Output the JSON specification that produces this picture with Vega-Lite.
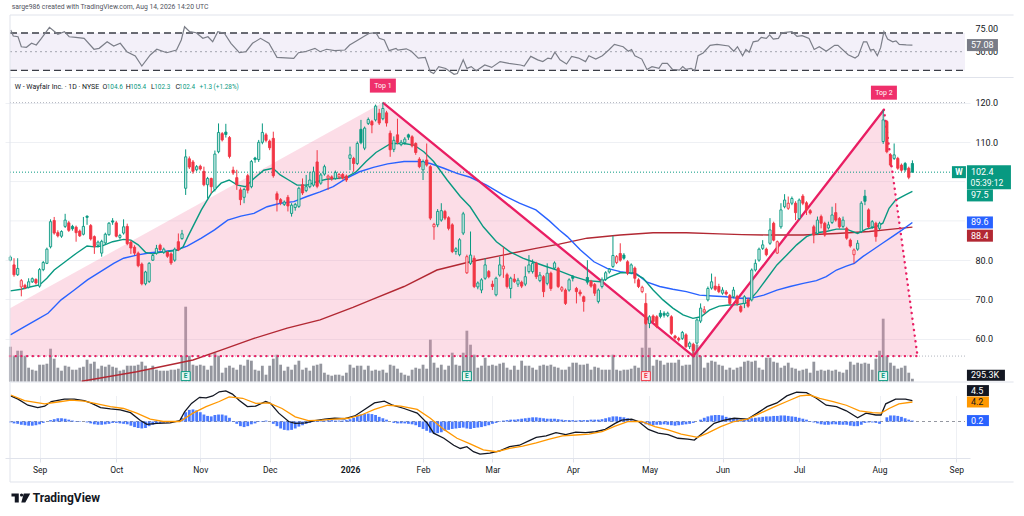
{
  "$schema": "https://vega.github.io/schema/vega-lite/v6.json",
  "width": 965,
  "height": 443,
  "autosize": {"type": "none"},
  "padding": {"left": 5, "top": 15, "right": 54, "bottom": 58},
  "background": "#ffffff",
  "config": {"view": {"stroke": null}, "font": "Roboto"},
  "datasets": {
    "bars": [
      {"i":-8,"o":80.0,"h":81.2,"l":79.7,"c":80.8,"v":3500,"mh":-0.2},
      {"i":-7,"o":78.8,"h":80.5,"l":75.8,"c":76.3,"v":2600,"mh":-0.4},
      {"i":-6,"o":76.3,"h":80.5,"l":76.0,"c":77.9,"v":3100,"mh":-0.5},
      {"i":-5,"o":73.2,"h":75.2,"l":70.8,"c":74.8,"v":3100,"mh":-0.7},
      {"i":-4,"o":73.6,"h":74.0,"l":72.6,"c":73.0,"v":2600,"mh":-0.8},
      {"i":-3,"o":73.1,"h":75.4,"l":72.8,"c":74.5,"v":1400,"mh":-0.9},
      {"i":-2,"o":74.5,"h":75.6,"l":74.2,"c":75.3,"v":1200,"mh":-0.9},
      {"i":-1,"o":75.1,"h":75.4,"l":73.8,"c":74.2,"v":1100,"mh":-0.8},
      {"i":0,"o":73.4,"h":78.0,"l":73.0,"c":77.6,"v":1700,"mh":-0.6},
      {"i":1,"o":77.6,"h":79.8,"l":77.2,"c":79.4,"v":1700,"mh":-0.3},
      {"i":2,"o":79.2,"h":83.2,"l":79.0,"c":82.8,"v":1800,"mh":0.0},
      {"i":3,"o":83.4,"h":90.4,"l":83.0,"c":89.8,"v":3300,"mh":0.3},
      {"i":4,"o":90.1,"h":91.0,"l":86.5,"c":86.9,"v":2300,"mh":0.5},
      {"i":5,"o":87.0,"h":87.6,"l":85.8,"c":86.2,"v":1400,"mh":0.7},
      {"i":6,"o":86.1,"h":87.6,"l":85.7,"c":87.3,"v":1100,"mh":0.7},
      {"i":7,"o":88.6,"h":91.8,"l":88.2,"c":90.2,"v":1600,"mh":0.6},
      {"i":8,"o":89.5,"h":90.0,"l":87.2,"c":87.6,"v":1500,"mh":0.4},
      {"i":9,"o":88.6,"h":89.0,"l":87.5,"c":88.0,"v":1200,"mh":0.2},
      {"i":10,"o":88.4,"h":88.8,"l":84.7,"c":87.0,"v":1200,"mh":0.1},
      {"i":11,"o":87.4,"h":87.8,"l":85.9,"c":86.2,"v":1400,"mh":0.1},
      {"i":12,"o":86.6,"h":91.0,"l":86.3,"c":88.6,"v":1500,"mh":0.0},
      {"i":13,"o":91.2,"h":91.4,"l":89.0,"c":90.9,"v":2200,"mh":-0.2},
      {"i":14,"o":88.8,"h":89.2,"l":85.0,"c":85.4,"v":1800,"mh":-0.4},
      {"i":15,"o":86.0,"h":86.3,"l":81.6,"c":83.5,"v":2000,"mh":-0.6},
      {"i":16,"o":83.8,"h":85.0,"l":83.2,"c":84.6,"v":1300,"mh":-0.7},
      {"i":17,"o":81.8,"h":85.2,"l":80.9,"c":84.8,"v":1600,"mh":-0.7},
      {"i":18,"o":84.4,"h":87.0,"l":84.0,"c":86.6,"v":1500,"mh":-0.6},
      {"i":19,"o":86.5,"h":89.7,"l":86.2,"c":89.4,"v":1700,"mh":-0.5},
      {"i":20,"o":90.0,"h":90.7,"l":89.0,"c":89.7,"v":1500,"mh":-0.3},
      {"i":21,"o":89.5,"h":90.0,"l":85.8,"c":86.1,"v":1400,"mh":-0.3},
      {"i":22,"o":85.8,"h":86.7,"l":85.3,"c":86.3,"v":1100,"mh":-0.4},
      {"i":23,"o":86.9,"h":90.4,"l":86.5,"c":88.5,"v":1200,"mh":-0.5},
      {"i":24,"o":88.6,"h":89.3,"l":83.8,"c":84.2,"v":1600,"mh":-0.6},
      {"i":25,"o":84.6,"h":85.0,"l":81.6,"c":83.1,"v":1600,"mh":-0.9},
      {"i":26,"o":83.3,"h":83.8,"l":81.3,"c":81.8,"v":1600,"mh":-1.2},
      {"i":27,"o":81.8,"h":82.2,"l":78.2,"c":78.6,"v":1700,"mh":-1.4},
      {"i":28,"o":79.0,"h":79.4,"l":73.6,"c":74.0,"v":2000,"mh":-1.5},
      {"i":29,"o":74.0,"h":77.3,"l":73.6,"c":77.0,"v":1600,"mh":-1.4},
      {"i":30,"o":74.6,"h":79.5,"l":74.2,"c":79.2,"v":1200,"mh":-1.0},
      {"i":31,"o":80.0,"h":81.6,"l":79.8,"c":81.2,"v":1600,"mh":-0.7},
      {"i":32,"o":81.8,"h":83.9,"l":81.4,"c":83.0,"v":1200,"mh":-0.5},
      {"i":33,"o":83.8,"h":84.2,"l":82.3,"c":82.7,"v":1100,"mh":-0.4},
      {"i":34,"o":82.0,"h":83.2,"l":81.6,"c":82.8,"v":1100,"mh":-0.3},
      {"i":35,"o":82.0,"h":82.3,"l":80.6,"c":81.0,"v":1100,"mh":-0.3},
      {"i":36,"o":81.6,"h":82.0,"l":78.8,"c":79.3,"v":1200,"mh":-0.2},
      {"i":37,"o":80.0,"h":83.2,"l":79.6,"c":82.8,"v":1200,"mh":-0.1},
      {"i":38,"o":84.7,"h":86.8,"l":82.3,"c":82.6,"v":1300,"mh":0.1},
      {"i":39,"o":85.5,"h":87.7,"l":85.2,"c":86.7,"v":2600,"mh":0.8},
      {"i":40,"o":98.3,"h":108.2,"l":96.6,"c":106.3,"v":7500,"mh":2.0},
      {"i":41,"o":105.8,"h":106.4,"l":103.2,"c":103.7,"v":2600,"mh":2.5},
      {"i":42,"o":105.0,"h":105.5,"l":102.0,"c":102.6,"v":1700,"mh":2.6},
      {"i":43,"o":103.0,"h":104.2,"l":102.6,"c":103.8,"v":1600,"mh":2.4},
      {"i":44,"o":103.9,"h":104.3,"l":102.8,"c":103.2,"v":1700,"mh":2.0},
      {"i":45,"o":102.6,"h":103.8,"l":98.8,"c":99.2,"v":1600,"mh":1.5},
      {"i":46,"o":99.2,"h":101.2,"l":95.7,"c":100.8,"v":1200,"mh":1.2},
      {"i":47,"o":100.8,"h":101.0,"l":97.0,"c":98.7,"v":1600,"mh":1.1},
      {"i":48,"o":98.0,"h":107.9,"l":97.5,"c":107.0,"v":2900,"mh":1.4},
      {"i":49,"o":107.6,"h":114.8,"l":107.2,"c":112.5,"v":2600,"mh":1.5},
      {"i":50,"o":112.2,"h":112.6,"l":110.2,"c":110.6,"v":900,"mh":1.5},
      {"i":51,"o":112.6,"h":114.7,"l":111.2,"c":112.0,"v":1400,"mh":1.3},
      {"i":52,"o":111.2,"h":111.6,"l":105.9,"c":106.4,"v":1600,"mh":0.8},
      {"i":53,"o":102.9,"h":103.8,"l":101.7,"c":102.2,"v":1400,"mh":0.1},
      {"i":54,"o":101.0,"h":103.0,"l":97.9,"c":99.2,"v":1200,"mh":-0.5},
      {"i":55,"o":97.9,"h":98.5,"l":94.0,"c":95.4,"v":1700,"mh":-1.0},
      {"i":56,"o":96.0,"h":98.4,"l":94.5,"c":98.0,"v":1600,"mh":-1.2},
      {"i":57,"o":101.5,"h":102.0,"l":97.0,"c":97.8,"v":2200,"mh":-1.0},
      {"i":58,"o":98.7,"h":105.5,"l":98.3,"c":105.1,"v":2100,"mh":-0.6},
      {"i":59,"o":106.0,"h":106.3,"l":104.8,"c":105.6,"v":1200,"mh":-0.4},
      {"i":60,"o":105.6,"h":110.6,"l":105.0,"c":110.0,"v":1100,"mh":-0.1},
      {"i":61,"o":110.0,"h":114.8,"l":109.5,"c":112.5,"v":1600,"mh":0.1},
      {"i":62,"o":111.9,"h":112.4,"l":110.0,"c":110.5,"v":700,"mh":0.2},
      {"i":63,"o":110.3,"h":110.7,"l":108.0,"c":108.6,"v":1600,"mh":0.0},
      {"i":64,"o":111.0,"h":112.7,"l":101.0,"c":101.5,"v":2300,"mh":-0.5},
      {"i":65,"o":96.9,"h":97.5,"l":92.4,"c":95.4,"v":2700,"mh":-1.0},
      {"i":66,"o":95.4,"h":95.8,"l":94.0,"c":94.6,"v":1700,"mh":-1.5},
      {"i":67,"o":94.2,"h":95.2,"l":93.8,"c":94.8,"v":1100,"mh":-1.8},
      {"i":68,"o":96.0,"h":96.6,"l":92.4,"c":93.8,"v":1500,"mh":-1.9},
      {"i":69,"o":91.9,"h":94.5,"l":91.1,"c":94.0,"v":1200,"mh":-1.8},
      {"i":70,"o":93.4,"h":94.6,"l":92.6,"c":94.2,"v":1700,"mh":-1.5},
      {"i":71,"o":93.7,"h":98.7,"l":93.3,"c":98.3,"v":2100,"mh":-1.1},
      {"i":72,"o":99.2,"h":100.8,"l":96.6,"c":97.1,"v":1200,"mh":-0.8},
      {"i":73,"o":97.7,"h":101.7,"l":97.3,"c":98.7,"v":1400,"mh":-0.5},
      {"i":74,"o":98.7,"h":102.5,"l":98.3,"c":100.4,"v":1100,"mh":-0.3},
      {"i":75,"o":99.1,"h":103.8,"l":98.7,"c":102.5,"v":1600,"mh":-0.1},
      {"i":76,"o":105.0,"h":108.0,"l":98.3,"c":98.8,"v":1700,"mh":0.1},
      {"i":77,"o":99.6,"h":102.2,"l":99.2,"c":101.7,"v":1800,"mh":0.2},
      {"i":78,"o":101.9,"h":104.3,"l":101.5,"c":103.8,"v":900,"mh":0.2},
      {"i":79,"o":100.9,"h":101.8,"l":97.9,"c":101.4,"v":700,"mh":0.3},
      {"i":80,"o":101.2,"h":101.6,"l":100.2,"c":100.7,"v":600,"mh":0.3},
      {"i":81,"o":100.8,"h":102.8,"l":100.5,"c":102.3,"v":700,"mh":0.2},
      {"i":82,"o":101.2,"h":102.2,"l":100.6,"c":101.8,"v":700,"mh":0.2},
      {"i":83,"o":101.8,"h":102.2,"l":100.5,"c":100.9,"v":600,"mh":0.2},
      {"i":84,"o":101.4,"h":101.8,"l":99.9,"c":100.4,"v":900,"mh":0.3},
      {"i":85,"o":105.9,"h":108.9,"l":102.9,"c":106.8,"v":1700,"mh":0.5},
      {"i":86,"o":105.9,"h":106.3,"l":102.5,"c":104.6,"v":1400,"mh":0.8},
      {"i":87,"o":104.6,"h":110.2,"l":104.2,"c":109.7,"v":1600,"mh":1.2},
      {"i":88,"o":113.3,"h":115.7,"l":109.5,"c":109.9,"v":1600,"mh":1.5},
      {"i":89,"o":108.5,"h":114.0,"l":108.0,"c":113.6,"v":1200,"mh":1.6},
      {"i":90,"o":114.8,"h":116.3,"l":114.4,"c":115.8,"v":1600,"mh":1.7},
      {"i":91,"o":115.3,"h":115.7,"l":112.3,"c":114.4,"v":1100,"mh":1.6},
      {"i":92,"o":115.7,"h":119.6,"l":115.3,"c":119.2,"v":1200,"mh":1.4},
      {"i":93,"o":117.4,"h":118.5,"l":114.4,"c":114.9,"v":1100,"mh":1.0},
      {"i":94,"o":116.0,"h":120.1,"l":115.6,"c":118.6,"v":1200,"mh":0.7},
      {"i":95,"o":117.5,"h":118.0,"l":114.0,"c":114.9,"v":900,"mh":0.4},
      {"i":96,"o":112.3,"h":113.0,"l":106.3,"c":108.1,"v":1700,"mh":0.0},
      {"i":97,"o":108.2,"h":111.5,"l":107.5,"c":110.5,"v":1600,"mh":-0.3},
      {"i":98,"o":111.9,"h":116.0,"l":109.5,"c":110.0,"v":1300,"mh":-0.4},
      {"i":99,"o":109.4,"h":110.6,"l":109.0,"c":110.0,"v":900,"mh":-0.4},
      {"i":100,"o":109.9,"h":111.3,"l":109.4,"c":110.8,"v":700,"mh":-0.4},
      {"i":101,"o":111.9,"h":112.2,"l":110.6,"c":111.3,"v":600,"mh":-0.5},
      {"i":102,"o":111.4,"h":111.8,"l":108.7,"c":109.1,"v":1200,"mh":-0.6},
      {"i":103,"o":109.7,"h":110.0,"l":106.8,"c":107.4,"v":1400,"mh":-0.8},
      {"i":104,"o":105.7,"h":106.2,"l":103.4,"c":103.8,"v":1300,"mh":-1.2},
      {"i":105,"o":103.0,"h":105.6,"l":100.4,"c":105.1,"v":1700,"mh":-1.6},
      {"i":106,"o":105.5,"h":109.7,"l":103.8,"c":104.2,"v":1300,"mh":-2.0},
      {"i":107,"o":103.8,"h":104.2,"l":90.2,"c":90.7,"v":4200,"mh":-2.4},
      {"i":108,"o":88.5,"h":89.5,"l":85.2,"c":89.1,"v":1900,"mh":-2.6},
      {"i":109,"o":89.0,"h":93.0,"l":88.4,"c":92.4,"v":1400,"mh":-2.5},
      {"i":110,"o":90.2,"h":94.5,"l":89.8,"c":92.6,"v":1700,"mh":-2.3},
      {"i":111,"o":92.4,"h":92.8,"l":90.2,"c":90.7,"v":1200,"mh":-2.0},
      {"i":112,"o":90.8,"h":91.2,"l":87.6,"c":88.1,"v":1600,"mh":-1.8},
      {"i":113,"o":89.0,"h":89.4,"l":81.8,"c":82.2,"v":2900,"mh":-1.6},
      {"i":114,"o":82.2,"h":83.3,"l":81.4,"c":82.9,"v":1700,"mh":-1.5},
      {"i":115,"o":81.4,"h":85.6,"l":81.0,"c":85.2,"v":1600,"mh":-1.4},
      {"i":116,"o":86.9,"h":92.3,"l":86.4,"c":91.8,"v":2900,"mh":-1.3},
      {"i":117,"o":76.8,"h":81.4,"l":76.5,"c":80.9,"v":5100,"mh":-1.5},
      {"i":118,"o":79.2,"h":87.3,"l":78.8,"c":81.3,"v":3700,"mh":-1.6},
      {"i":119,"o":80.5,"h":81.2,"l":72.9,"c":73.3,"v":2700,"mh":-1.4},
      {"i":120,"o":73.2,"h":74.6,"l":72.6,"c":74.2,"v":1400,"mh":-1.3},
      {"i":121,"o":72.4,"h":75.4,"l":71.6,"c":75.0,"v":1600,"mh":-1.2},
      {"i":122,"o":75.4,"h":80.5,"l":75.0,"c":78.8,"v":2400,"mh":-1.0},
      {"i":123,"o":77.1,"h":77.5,"l":75.4,"c":75.8,"v":1600,"mh":-0.8},
      {"i":124,"o":73.9,"h":74.8,"l":72.4,"c":73.3,"v":1700,"mh":-0.5},
      {"i":125,"o":71.2,"h":75.8,"l":70.8,"c":75.4,"v":1600,"mh":-0.3},
      {"i":126,"o":76.2,"h":80.9,"l":75.8,"c":78.8,"v":1800,"mh":-0.1},
      {"i":127,"o":77.8,"h":83.4,"l":75.5,"c":78.5,"v":1900,"mh":0.2},
      {"i":128,"o":76.3,"h":76.8,"l":72.8,"c":73.3,"v":1400,"mh":0.3},
      {"i":129,"o":72.8,"h":75.8,"l":70.3,"c":75.4,"v":1200,"mh":0.4},
      {"i":130,"o":75.2,"h":76.5,"l":74.2,"c":74.6,"v":1600,"mh":0.4},
      {"i":131,"o":73.9,"h":75.5,"l":73.2,"c":74.9,"v":1200,"mh":0.5},
      {"i":132,"o":74.4,"h":74.8,"l":72.9,"c":73.4,"v":2100,"mh":0.6},
      {"i":133,"o":73.9,"h":78.4,"l":73.4,"c":75.8,"v":1600,"mh":0.7},
      {"i":134,"o":77.1,"h":81.3,"l":76.6,"c":78.8,"v":1600,"mh":0.8},
      {"i":135,"o":77.1,"h":80.2,"l":76.6,"c":79.2,"v":1400,"mh":0.9},
      {"i":136,"o":79.2,"h":79.6,"l":75.2,"c":75.8,"v":1200,"mh":0.9},
      {"i":137,"o":74.8,"h":77.0,"l":74.4,"c":76.2,"v":1600,"mh":0.8},
      {"i":138,"o":75.8,"h":76.2,"l":70.6,"c":72.0,"v":1700,"mh":0.7},
      {"i":139,"o":74.1,"h":79.2,"l":73.6,"c":76.7,"v":1600,"mh":0.6},
      {"i":140,"o":76.7,"h":77.1,"l":72.2,"c":72.8,"v":1700,"mh":0.6},
      {"i":141,"o":78.0,"h":79.7,"l":77.6,"c":79.3,"v":1500,"mh":0.6},
      {"i":142,"o":77.9,"h":78.3,"l":72.9,"c":73.3,"v":1400,"mh":0.5},
      {"i":143,"o":72.4,"h":73.4,"l":71.9,"c":73.0,"v":1200,"mh":0.4},
      {"i":144,"o":72.4,"h":72.8,"l":68.6,"c":69.0,"v":1200,"mh":0.3},
      {"i":145,"o":72.4,"h":75.4,"l":72.0,"c":75.0,"v":1500,"mh":0.3},
      {"i":146,"o":75.9,"h":76.2,"l":74.6,"c":75.4,"v":1900,"mh":0.3},
      {"i":147,"o":72.8,"h":73.2,"l":69.0,"c":72.0,"v":1900,"mh":0.2},
      {"i":148,"o":71.9,"h":72.5,"l":70.8,"c":71.4,"v":1700,"mh":0.3},
      {"i":149,"o":70.7,"h":71.0,"l":66.9,"c":69.5,"v":1700,"mh":0.3},
      {"i":150,"o":75.6,"h":80.0,"l":73.8,"c":74.4,"v":1800,"mh":0.3},
      {"i":151,"o":74.6,"h":75.0,"l":73.0,"c":73.4,"v":1200,"mh":0.4},
      {"i":152,"o":73.8,"h":74.2,"l":70.9,"c":71.6,"v":1500,"mh":0.4},
      {"i":153,"o":69.5,"h":72.8,"l":69.0,"c":72.4,"v":1400,"mh":0.4},
      {"i":154,"o":73.3,"h":75.6,"l":72.8,"c":75.0,"v":1200,"mh":0.5},
      {"i":155,"o":75.1,"h":77.2,"l":74.7,"c":76.8,"v":1200,"mh":0.7},
      {"i":156,"o":77.0,"h":78.0,"l":76.6,"c":77.7,"v":1200,"mh":0.9},
      {"i":157,"o":78.4,"h":86.2,"l":78.0,"c":81.2,"v":2700,"mh":1.1},
      {"i":158,"o":79.4,"h":81.3,"l":79.0,"c":80.9,"v":1200,"mh":1.1},
      {"i":159,"o":81.7,"h":84.3,"l":79.6,"c":80.0,"v":1100,"mh":1.0},
      {"i":160,"o":81.3,"h":81.8,"l":80.1,"c":80.5,"v":1200,"mh":0.9},
      {"i":161,"o":79.6,"h":80.0,"l":76.2,"c":76.7,"v":1200,"mh":0.7},
      {"i":162,"o":76.8,"h":79.2,"l":76.4,"c":78.8,"v":1300,"mh":0.5},
      {"i":163,"o":78.0,"h":78.4,"l":74.1,"c":75.4,"v":1600,"mh":0.2},
      {"i":164,"o":75.0,"h":75.4,"l":72.9,"c":73.3,"v":1400,"mh":0.0},
      {"i":165,"o":72.0,"h":73.5,"l":71.6,"c":73.1,"v":3400,"mh":-0.3},
      {"i":166,"o":69.0,"h":71.6,"l":63.5,"c":63.9,"v":6300,"mh":-0.6},
      {"i":167,"o":63.9,"h":66.0,"l":62.7,"c":65.6,"v":3400,"mh":-0.8},
      {"i":168,"o":65.8,"h":66.2,"l":64.0,"c":64.4,"v":1600,"mh":-0.8},
      {"i":169,"o":65.6,"h":66.0,"l":62.7,"c":63.1,"v":2200,"mh":-0.7},
      {"i":170,"o":66.5,"h":67.3,"l":65.2,"c":65.7,"v":2100,"mh":-0.7},
      {"i":171,"o":66.5,"h":67.0,"l":65.4,"c":66.0,"v":1700,"mh":-0.6},
      {"i":172,"o":65.9,"h":66.9,"l":65.5,"c":66.5,"v":1900,"mh":-0.7},
      {"i":173,"o":65.6,"h":66.0,"l":61.0,"c":61.4,"v":1900,"mh":-0.8},
      {"i":174,"o":60.7,"h":61.0,"l":59.8,"c":60.2,"v":1900,"mh":-0.9},
      {"i":175,"o":60.1,"h":60.5,"l":59.3,"c":59.7,"v":2200,"mh":-0.8},
      {"i":176,"o":60.1,"h":62.0,"l":59.7,"c":61.6,"v":1600,"mh":-0.7},
      {"i":177,"o":61.0,"h":61.4,"l":57.6,"c":58.0,"v":1700,"mh":-0.6},
      {"i":178,"o":58.0,"h":59.3,"l":57.4,"c":58.9,"v":1700,"mh":-0.5},
      {"i":179,"o":58.6,"h":59.0,"l":55.6,"c":57.0,"v":3600,"mh":-0.3},
      {"i":180,"o":58.9,"h":65.2,"l":58.5,"c":64.8,"v":3700,"mh":0.0},
      {"i":181,"o":64.5,"h":69.0,"l":64.0,"c":67.8,"v":2600,"mh":0.4},
      {"i":182,"o":66.8,"h":68.3,"l":66.4,"c":67.4,"v":1400,"mh":0.8},
      {"i":183,"o":69.9,"h":73.3,"l":69.5,"c":72.8,"v":1900,"mh":1.1},
      {"i":184,"o":72.9,"h":76.6,"l":72.5,"c":74.5,"v":2100,"mh":1.3},
      {"i":185,"o":73.4,"h":75.8,"l":72.2,"c":72.6,"v":2000,"mh":1.4},
      {"i":186,"o":73.3,"h":74.0,"l":71.6,"c":72.0,"v":1700,"mh":1.4},
      {"i":187,"o":71.6,"h":73.1,"l":71.2,"c":72.4,"v":1600,"mh":1.3},
      {"i":188,"o":71.9,"h":72.4,"l":71.0,"c":71.4,"v":1200,"mh":1.0},
      {"i":189,"o":71.0,"h":71.4,"l":68.6,"c":69.0,"v":1400,"mh":0.8},
      {"i":190,"o":70.7,"h":73.2,"l":70.3,"c":72.4,"v":1200,"mh":0.6},
      {"i":191,"o":70.8,"h":71.2,"l":68.4,"c":69.0,"v":1400,"mh":0.5},
      {"i":192,"o":68.2,"h":68.6,"l":66.6,"c":67.0,"v":1500,"mh":0.4},
      {"i":193,"o":69.0,"h":71.1,"l":67.8,"c":70.7,"v":2000,"mh":0.4},
      {"i":194,"o":69.9,"h":70.4,"l":67.9,"c":68.3,"v":2100,"mh":0.5},
      {"i":195,"o":69.9,"h":77.9,"l":69.5,"c":77.5,"v":2000,"mh":0.7},
      {"i":196,"o":77.5,"h":80.2,"l":77.1,"c":79.2,"v":2100,"mh":0.8},
      {"i":197,"o":80.0,"h":83.2,"l":79.6,"c":82.8,"v":1400,"mh":0.9},
      {"i":198,"o":83.0,"h":85.1,"l":82.6,"c":83.9,"v":1200,"mh":1.0},
      {"i":199,"o":82.8,"h":83.2,"l":81.0,"c":81.4,"v":2400,"mh":1.1},
      {"i":200,"o":84.3,"h":90.7,"l":83.9,"c":87.7,"v":2400,"mh":1.1},
      {"i":201,"o":89.4,"h":89.8,"l":84.8,"c":85.1,"v":2000,"mh":1.2},
      {"i":202,"o":81.8,"h":85.0,"l":81.6,"c":84.7,"v":1900,"mh":1.2},
      {"i":203,"o":88.5,"h":94.5,"l":88.0,"c":92.8,"v":1400,"mh":1.3},
      {"i":204,"o":93.6,"h":96.8,"l":93.2,"c":95.3,"v":1600,"mh":1.3},
      {"i":205,"o":93.2,"h":96.2,"l":92.8,"c":94.5,"v":1900,"mh":1.2},
      {"i":206,"o":94.5,"h":96.2,"l":94.0,"c":95.7,"v":1400,"mh":1.1},
      {"i":207,"o":94.5,"h":95.0,"l":90.2,"c":92.1,"v":1300,"mh":1.0},
      {"i":208,"o":90.6,"h":95.7,"l":90.2,"c":95.3,"v":1100,"mh":0.8},
      {"i":209,"o":96.3,"h":96.8,"l":94.0,"c":94.5,"v":1200,"mh":0.6},
      {"i":210,"o":94.6,"h":95.0,"l":91.5,"c":92.8,"v":1300,"mh":0.4},
      {"i":211,"o":92.6,"h":93.0,"l":91.6,"c":92.0,"v":900,"mh":0.1},
      {"i":212,"o":88.5,"h":89.0,"l":84.3,"c":86.4,"v":2000,"mh":-0.2},
      {"i":213,"o":86.8,"h":91.1,"l":86.4,"c":90.2,"v":1100,"mh":-0.4},
      {"i":214,"o":91.1,"h":91.6,"l":88.1,"c":89.4,"v":1200,"mh":-0.6},
      {"i":215,"o":89.4,"h":89.8,"l":86.0,"c":86.4,"v":1100,"mh":-0.7},
      {"i":216,"o":88.2,"h":89.8,"l":87.8,"c":89.0,"v":1200,"mh":-0.7},
      {"i":217,"o":89.6,"h":93.6,"l":89.2,"c":91.5,"v":1100,"mh":-0.6},
      {"i":218,"o":92.1,"h":94.5,"l":89.8,"c":90.2,"v":1200,"mh":-0.6},
      {"i":219,"o":90.6,"h":91.0,"l":88.0,"c":88.5,"v":1000,"mh":-0.7},
      {"i":220,"o":88.6,"h":91.1,"l":88.2,"c":90.2,"v":900,"mh":-0.7},
      {"i":221,"o":88.1,"h":88.5,"l":85.2,"c":85.6,"v":1200,"mh":-0.7},
      {"i":222,"o":85.1,"h":85.5,"l":83.2,"c":83.6,"v":2000,"mh":-0.9},
      {"i":223,"o":81.4,"h":83.0,"l":79.2,"c":82.6,"v":1700,"mh":-1.0},
      {"i":224,"o":82.8,"h":85.1,"l":82.4,"c":84.3,"v":1900,"mh":-1.0},
      {"i":225,"o":87.3,"h":95.0,"l":86.9,"c":94.5,"v":1800,"mh":-0.7},
      {"i":226,"o":96.3,"h":97.9,"l":94.0,"c":95.0,"v":1900,"mh":-0.3},
      {"i":227,"o":92.8,"h":93.2,"l":88.1,"c":88.5,"v":1800,"mh":-0.2},
      {"i":228,"o":88.5,"h":90.2,"l":88.0,"c":89.8,"v":1200,"mh":-0.2},
      {"i":229,"o":89.4,"h":89.8,"l":84.7,"c":86.0,"v":2300,"mh":-0.3},
      {"i":230,"o":88.1,"h":89.8,"l":87.7,"c":89.4,"v":3100,"mh":-0.5},
      {"i":231,"o":110.2,"h":118.2,"l":109.6,"c":115.7,"v":6300,"mh":0.0},
      {"i":232,"o":115.3,"h":115.7,"l":107.2,"c":107.6,"v":2600,"mh":0.9},
      {"i":233,"o":106.8,"h":107.2,"l":103.8,"c":104.2,"v":1900,"mh":1.3},
      {"i":234,"o":105.9,"h":109.7,"l":105.5,"c":106.8,"v":1600,"mh":1.3},
      {"i":235,"o":105.9,"h":106.3,"l":103.0,"c":103.4,"v":1300,"mh":1.2},
      {"i":236,"o":104.2,"h":104.6,"l":102.5,"c":102.9,"v":1400,"mh":1.0},
      {"i":237,"o":104.6,"h":105.0,"l":102.5,"c":103.0,"v":1600,"mh":0.7},
      {"i":238,"o":103.4,"h":103.8,"l":100.6,"c":101.1,"v":900,"mh":0.4},
      {"i":239,"o":104.6,"h":105.4,"l":102.3,"c":102.4,"v":295.3,"mh":0.2}
    ],
    "ma": [
      {"s":"r","i":11.5,"p":49.2},{"s":"r","i":26.6,"p":51.6},{"s":"r","i":42,"p":54.6},{"s":"r","i":49.7,"p":57.1},{"s":"r","i":58.7,"p":60.1},{"s":"r","i":67.8,"p":62.7},{"s":"r","i":76.8,"p":64.8},{"s":"r","i":85.8,"p":68.0},{"s":"r","i":90.8,"p":69.9},{"s":"r","i":99.8,"p":73.3},{"s":"r","i":108.8,"p":77.5},{"s":"r","i":117.9,"p":79.6},{"s":"r","i":126.9,"p":81.3},{"s":"r","i":135.9,"p":83.0},{"s":"r","i":142.3,"p":84.1},{"s":"r","i":149.9,"p":85.6},{"s":"r","i":159,"p":86.4},{"s":"r","i":168,"p":87.0},{"s":"r","i":177.1,"p":87.0},{"s":"r","i":186.1,"p":86.7},{"s":"r","i":192.4,"p":86.5},{"s":"r","i":200.1,"p":86.4},{"s":"r","i":209.1,"p":86.4},{"s":"r","i":218.2,"p":86.8},{"s":"r","i":227.2,"p":87.3},{"s":"r","i":233.5,"p":87.9},{"s":"r","i":239,"p":88.4},
      {"s":"b","i":-8,"p":61.0},{"s":"b","i":-4.1,"p":63.1},{"s":"b","i":-0.5,"p":65.0},{"s":"b","i":2.3,"p":66.5},{"s":"b","i":5.9,"p":69.9},{"s":"b","i":9.5,"p":72.4},{"s":"b","i":13.1,"p":75.0},{"s":"b","i":16.7,"p":77.1},{"s":"b","i":20.3,"p":79.2},{"s":"b","i":23,"p":80.5},{"s":"b","i":26.6,"p":81.3},{"s":"b","i":30.3,"p":81.9},{"s":"b","i":33.9,"p":82.2},{"s":"b","i":37.5,"p":82.6},{"s":"b","i":40.4,"p":83.6},{"s":"b","i":44.3,"p":85.6},{"s":"b","i":47.9,"p":87.7},{"s":"b","i":51.5,"p":90.2},{"s":"b","i":55.1,"p":91.2},{"s":"b","i":58.7,"p":91.9},{"s":"b","i":62.3,"p":93.6},{"s":"b","i":65.9,"p":94.5},{"s":"b","i":69.6,"p":94.9},{"s":"b","i":73.2,"p":96.2},{"s":"b","i":76.8,"p":97.4},{"s":"b","i":80.4,"p":98.7},{"s":"b","i":84,"p":100.8},{"s":"b","i":87.6,"p":102.5},{"s":"b","i":91.4,"p":103.6},{"s":"b","i":95.3,"p":104.5},{"s":"b","i":99.8,"p":105.1},{"s":"b","i":104.3,"p":105.1},{"s":"b","i":107,"p":104.6},{"s":"b","i":110.7,"p":103.4},{"s":"b","i":114.3,"p":102.1},{"s":"b","i":117.9,"p":101.1},{"s":"b","i":122.4,"p":99.1},{"s":"b","i":126.9,"p":96.6},{"s":"b","i":131.4,"p":94.5},{"s":"b","i":135.9,"p":92.8},{"s":"b","i":139.6,"p":90.0},{"s":"b","i":142.3,"p":87.7},{"s":"b","i":144.5,"p":86.0},{"s":"b","i":148.1,"p":82.6},{"s":"b","i":151.8,"p":79.6},{"s":"b","i":155.4,"p":77.9},{"s":"b","i":159,"p":77.1},{"s":"b","i":163.5,"p":76.5},{"s":"b","i":166.2,"p":74.5},{"s":"b","i":169.8,"p":73.3},{"s":"b","i":173.4,"p":72.6},{"s":"b","i":177.1,"p":72.0},{"s":"b","i":180.7,"p":71.1},{"s":"b","i":184.3,"p":70.9},{"s":"b","i":187.9,"p":70.7},{"s":"b","i":191.1,"p":70.3},{"s":"b","i":194.7,"p":70.3},{"s":"b","i":198.3,"p":71.1},{"s":"b","i":201.9,"p":72.4},{"s":"b","i":205.5,"p":73.3},{"s":"b","i":209.1,"p":74.1},{"s":"b","i":212.7,"p":74.8},{"s":"b","i":215.4,"p":75.8},{"s":"b","i":218.2,"p":77.5},{"s":"b","i":220.9,"p":78.5},{"s":"b","i":223.1,"p":79.2},{"s":"b","i":225.4,"p":80.9},{"s":"b","i":228.1,"p":82.6},{"s":"b","i":230.8,"p":84.3},{"s":"b","i":233.5,"p":86.0},{"s":"b","i":236.2,"p":87.7},{"s":"b","i":239,"p":89.6},
      {"s":"e","i":-8,"p":72.2},{"s":"e","i":-5,"p":72.6},{"s":"e","i":-3,"p":73.1},{"s":"e","i":0,"p":73.7},{"s":"e","i":2,"p":75.4},{"s":"e","i":4,"p":77.5},{"s":"e","i":7,"p":79.6},{"s":"e","i":10,"p":81.7},{"s":"e","i":13,"p":83.6},{"s":"e","i":15,"p":83.4},{"s":"e","i":17,"p":83.6},{"s":"e","i":20,"p":84.7},{"s":"e","i":23,"p":85.3},{"s":"e","i":25,"p":85.1},{"s":"e","i":27,"p":83.9},{"s":"e","i":29,"p":82.0},{"s":"e","i":31,"p":81.6},{"s":"e","i":33,"p":82.0},{"s":"e","i":35,"p":82.2},{"s":"e","i":38,"p":82.6},{"s":"e","i":39.3,"p":83.4},{"s":"e","i":40.6,"p":86.0},{"s":"e","i":42.5,"p":89.5},{"s":"e","i":44.3,"p":92.8},{"s":"e","i":47,"p":97.0},{"s":"e","i":49.7,"p":99.6},{"s":"e","i":51.9,"p":100.4},{"s":"e","i":54.2,"p":99.1},{"s":"e","i":56.4,"p":98.7},{"s":"e","i":58.7,"p":100.8},{"s":"e","i":61.4,"p":102.9},{"s":"e","i":63.9,"p":103.4},{"s":"e","i":65.9,"p":101.7},{"s":"e","i":68.2,"p":100.4},{"s":"e","i":70.5,"p":99.1},{"s":"e","i":73.2,"p":99.1},{"s":"e","i":75.9,"p":100.0},{"s":"e","i":78.6,"p":100.6},{"s":"e","i":81.3,"p":100.8},{"s":"e","i":84,"p":101.1},{"s":"e","i":86.7,"p":102.5},{"s":"e","i":89.4,"p":105.1},{"s":"e","i":92.1,"p":107.4},{"s":"e","i":96.2,"p":109.7},{"s":"e","i":99.8,"p":109.7},{"s":"e","i":102.5,"p":109.3},{"s":"e","i":105.2,"p":107.6},{"s":"e","i":107.9,"p":105.1},{"s":"e","i":111.6,"p":100.4},{"s":"e","i":115.2,"p":96.2},{"s":"e","i":117.9,"p":93.6},{"s":"e","i":121.5,"p":88.5},{"s":"e","i":125.1,"p":84.7},{"s":"e","i":128.7,"p":82.2},{"s":"e","i":132.3,"p":80.5},{"s":"e","i":135,"p":79.6},{"s":"e","i":138.7,"p":78.4},{"s":"e","i":142.3,"p":77.3},{"s":"e","i":146.3,"p":75.8},{"s":"e","i":149.9,"p":74.8},{"s":"e","i":153.6,"p":74.5},{"s":"e","i":156.3,"p":75.8},{"s":"e","i":159,"p":76.8},{"s":"e","i":162.6,"p":76.8},{"s":"e","i":165.3,"p":75.4},{"s":"e","i":168,"p":72.4},{"s":"e","i":170.7,"p":69.9},{"s":"e","i":173.4,"p":67.8},{"s":"e","i":176.2,"p":66.1},{"s":"e","i":178.9,"p":65.2},{"s":"e","i":181.1,"p":65.6},{"s":"e","i":183.4,"p":67.3},{"s":"e","i":186.1,"p":68.3},{"s":"e","i":188.8,"p":68.6},{"s":"e","i":191.1,"p":68.7},{"s":"e","i":193.8,"p":69.2},{"s":"e","i":196.5,"p":72.0},{"s":"e","i":199.2,"p":75.4},{"s":"e","i":201.9,"p":78.8},{"s":"e","i":204.6,"p":81.3},{"s":"e","i":207.3,"p":83.9},{"s":"e","i":210,"p":86.0},{"s":"e","i":212.7,"p":87.0},{"s":"e","i":215.4,"p":87.3},{"s":"e","i":218.2,"p":87.9},{"s":"e","i":220.9,"p":87.9},{"s":"e","i":224,"p":86.8},{"s":"e","i":226.3,"p":87.9},{"s":"e","i":229,"p":88.5},{"s":"e","i":230.9,"p":89.4},{"s":"e","i":232.6,"p":93.2},{"s":"e","i":234.4,"p":95.3},{"s":"e","i":237.1,"p":96.6},{"s":"e","i":239,"p":97.5}
    ],
    "rsi": [
      {"i":-7.9,"r":73.2},{"i":-7.2,"r":66.8},{"i":-5.9,"r":66.0},{"i":-5,"r":55.3},{"i":-3.6,"r":54.7},{"i":-2.2,"r":59.0},{"i":-0.9,"r":57.2},{"i":0.5,"r":64.3},{"i":2.7,"r":76.1},{"i":5,"r":68.6},{"i":6.8,"r":71.4},{"i":8.1,"r":66.0},{"i":9.9,"r":65.4},{"i":12.2,"r":64.3},{"i":14.9,"r":52.6},{"i":16.3,"r":53.6},{"i":18.5,"r":60.7},{"i":20.3,"r":56.1},{"i":22.1,"r":59.0},{"i":23.9,"r":50.0},{"i":26.2,"r":45.4},{"i":28,"r":34.7},{"i":30.3,"r":46.5},{"i":32.1,"r":52.6},{"i":34.8,"r":48.9},{"i":37.5,"r":51.8},{"i":38.8,"r":62.5},{"i":39.7,"r":76.7},{"i":41.1,"r":71.4},{"i":42.9,"r":70.3},{"i":44.7,"r":64.3},{"i":46.1,"r":66.0},{"i":47.4,"r":60.7},{"i":48.8,"r":71.4},{"i":50.6,"r":69.7},{"i":52.4,"r":59.0},{"i":54.7,"r":48.9},{"i":56.5,"r":50.0},{"i":58.3,"r":59.0},{"i":60.5,"r":64.3},{"i":62.8,"r":59.0},{"i":65,"r":44.0},{"i":69.6,"r":42.9},{"i":70.9,"r":48.9},{"i":72.7,"r":50.0},{"i":75.4,"r":53.6},{"i":76.8,"r":50.0},{"i":78.6,"r":52.6},{"i":80.8,"r":51.1},{"i":83.6,"r":51.8},{"i":84.9,"r":57.2},{"i":87.2,"r":62.5},{"i":89,"r":66.8},{"i":90.3,"r":69.7},{"i":92.1,"r":70.3},{"i":93,"r":64.3},{"i":94.4,"r":62.5},{"i":95.7,"r":51.1},{"i":97.6,"r":53.6},
      {"i":98.1,"r":51.6},{"i":100.4,"r":53.1},{"i":101.8,"r":50.5},{"i":103.7,"r":43.2},{"i":105.6,"r":43.9},{"i":107,"r":28.4},{"i":107.9,"r":26.6},{"i":109.3,"r":34.0},{"i":111.2,"r":32.1},{"i":113.5,"r":25.8},{"i":114.4,"r":26.6},{"i":116,"r":41.3},{"i":117,"r":32.1},{"i":118.2,"r":34.0},{"i":119.6,"r":29.5},{"i":121.9,"r":35.8},{"i":123.8,"r":33.2},{"i":126.1,"r":39.4},{"i":128.5,"r":37.6},{"i":131.7,"r":35.8},{"i":132.7,"r":34.7},{"i":134.5,"r":45.0},{"i":136.4,"r":41.3},{"i":137.8,"r":39.4},{"i":139.2,"r":43.2},{"i":140.1,"r":42.4},{"i":141.1,"r":49.5},{"i":142.5,"r":41.3},{"i":144.3,"r":36.8},{"i":145.7,"r":45.0},{"i":147.6,"r":43.2},{"i":149.5,"r":39.4},{"i":150.4,"r":45.7},{"i":152.3,"r":42.1},{"i":154.1,"r":45.7},{"i":156,"r":52.4},{"i":157.4,"r":57.9},{"i":159.8,"r":55.3},{"i":161.2,"r":50.5},{"i":162.1,"r":52.4},{"i":163,"r":45.7},{"i":164.9,"r":42.1},{"i":166.3,"r":31.0},{"i":167.7,"r":34.0},{"i":169.6,"r":32.1},{"i":170.5,"r":37.6},{"i":171.9,"r":37.6},{"i":173.3,"r":31.0},{"i":175.2,"r":30.2},{"i":176.1,"r":34.0},{"i":177,"r":31.0},{"i":178.4,"r":32.1},{"i":179.4,"r":29.5},{"i":180.3,"r":45.7},{"i":181.7,"r":48.7},{"i":183.6,"r":56.8},{"i":185.5,"r":57.9},{"i":188.7,"r":56.1},{"i":190.1,"r":50.5},{"i":191.1,"r":55.3},{"i":192.5,"r":45.7},{"i":193.4,"r":52.4},{"i":194.3,"r":49.5},{"i":195.4,"r":60.5},{"i":196.7,"r":61.6},{"i":197.6,"r":65.3},{"i":199,"r":64.2},{"i":199.9,"r":67.9},{"i":200.9,"r":63.5},{"i":202.3,"r":64.2},{"i":203.2,"r":70.1},{"i":206,"r":71.5},{"i":207.4,"r":66.4},{"i":208.8,"r":67.1},{"i":210.7,"r":64.2},{"i":212.1,"r":52.4},{"i":213.5,"r":55.3},{"i":215.4,"r":50.5},{"i":217.7,"r":56.8},{"i":218.6,"r":56.8},{"i":221.4,"r":46.8},{"i":223.3,"r":43.2},{"i":224.2,"r":45.7},{"i":225.6,"r":60.5},{"i":226.5,"r":60.5},{"i":227.5,"r":51.6},{"i":228.4,"r":52.4},{"i":229.4,"r":45.7},{"i":230.3,"r":54.3},{"i":231.2,"r":71.5},{"i":232.2,"r":63.5},{"i":233.6,"r":60.5},{"i":234.5,"r":61.6},{"i":235.4,"r":57.9},{"i":237.3,"r":57.2},{"i":239,"r":57.1}
    ],
    "macd": [
      {"s":"m","i":-7.9,"m":5.5},{"s":"m","i":-5.9,"m":4.8},{"s":"m","i":-3.2,"m":3.5},{"s":"m","i":-0.5,"m":3.0},{"s":"m","i":1.4,"m":3.3},{"s":"m","i":3.2,"m":4.3},{"s":"m","i":6.8,"m":4.8},{"s":"m","i":9.5,"m":4.8},{"s":"m","i":12.2,"m":4.5},{"s":"m","i":14,"m":4.0},{"s":"m","i":16.7,"m":3.0},{"s":"m","i":19.4,"m":2.7},{"s":"m","i":22.1,"m":2.5},{"s":"m","i":24.9,"m":1.9},{"s":"m","i":27.6,"m":0.2},{"s":"m","i":29.4,"m":-0.6},{"s":"m","i":32.1,"m":-0.4},{"s":"m","i":35.7,"m":-0.3},{"s":"m","i":38.4,"m":0.2},{"s":"m","i":39.7,"m":2.1},{"s":"m","i":41.6,"m":3.9},{"s":"m","i":43.8,"m":5.2},{"s":"m","i":45.6,"m":5.1},{"s":"m","i":47.4,"m":5.5},{"s":"m","i":49.2,"m":6.4},{"s":"m","i":51,"m":6.6},{"s":"m","i":52.8,"m":5.9},{"s":"m","i":54.7,"m":4.5},{"s":"m","i":56.9,"m":3.2},{"s":"m","i":59.2,"m":3.3},{"s":"m","i":61.9,"m":4.3},{"s":"m","i":63.2,"m":3.9},{"s":"m","i":65.5,"m":1.8},{"s":"m","i":68.2,"m":0.0},{"s":"m","i":70,"m":-0.4},{"s":"m","i":72.7,"m":-0.3},{"s":"m","i":75.4,"m":0.2},{"s":"m","i":78.1,"m":0.5},{"s":"m","i":80.8,"m":0.7},{"s":"m","i":83.6,"m":0.6},{"s":"m","i":86.3,"m":1.2},{"s":"m","i":89,"m":2.6},{"s":"m","i":91.7,"m":4.0},{"s":"m","i":94.4,"m":4.4},{"s":"m","i":96.7,"m":3.5},{"s":"m","i":99.8,"m":2.8},{"s":"m","i":103.4,"m":1.8},{"s":"m","i":106.2,"m":-0.4},{"s":"m","i":107.9,"m":-2.5},{"s":"m","i":110.7,"m":-3.6},{"s":"m","i":113.4,"m":-5.1},{"s":"m","i":115.2,"m":-5.8},{"s":"m","i":117,"m":-5.4},{"s":"m","i":118.8,"m":-6.5},{"s":"m","i":120.6,"m":-7.0},{"s":"m","i":123.3,"m":-6.8},{"s":"m","i":126,"m":-6.3},{"s":"m","i":128.7,"m":-5.4},{"s":"m","i":131.4,"m":-5.1},{"s":"m","i":134.1,"m":-4.1},{"s":"m","i":136,"m":-3.4},{"s":"m","i":138.7,"m":-3.1},{"s":"m","i":141.4,"m":-2.4},{"s":"m","i":144.1,"m":-2.8},{"s":"m","i":146.8,"m":-2.3},{"s":"m","i":149.5,"m":-2.4},{"s":"m","i":152.2,"m":-2.2},{"s":"m","i":154.9,"m":-1.7},{"s":"m","i":157.6,"m":-0.4},{"s":"m","i":159.4,"m":0.3},{"s":"m","i":162.1,"m":0.5},{"s":"m","i":164,"m":0.0},{"s":"m","i":166.7,"m":-1.7},{"s":"m","i":169.4,"m":-2.5},{"s":"m","i":172.1,"m":-2.8},{"s":"m","i":174.8,"m":-3.6},{"s":"m","i":177.5,"m":-3.8},{"s":"m","i":179.3,"m":-4.0},{"s":"m","i":182,"m":-2.2},{"s":"m","i":184.7,"m":-0.4},{"s":"m","i":187.5,"m":0.3},{"s":"m","i":190.2,"m":0.7},{"s":"m","i":193.8,"m":0.5},{"s":"m","i":196.5,"m":1.8},{"s":"m","i":199.2,"m":3.2},{"s":"m","i":201.9,"m":4.0},{"s":"m","i":204.6,"m":5.5},{"s":"m","i":207.3,"m":6.3},{"s":"m","i":210,"m":6.2},{"s":"m","i":212.7,"m":5.0},{"s":"m","i":215.4,"m":3.5},{"s":"m","i":218.2,"m":3.2},{"s":"m","i":220.9,"m":2.3},{"s":"m","i":224,"m":0.8},{"s":"m","i":226.3,"m":1.8},{"s":"m","i":229,"m":1.4},{"s":"m","i":230.4,"m":1.4},{"s":"m","i":231.7,"m":3.8},{"s":"m","i":234.4,"m":4.8},{"s":"m","i":237.1,"m":4.8},{"s":"m","i":239,"m":4.5},
      {"s":"s","i":-7.9,"m":5.7},{"s":"s","i":-4.1,"m":4.5},{"s":"s","i":1.4,"m":3.8},{"s":"s","i":5,"m":4.2},{"s":"s","i":8.6,"m":4.6},{"s":"s","i":12.2,"m":4.4},{"s":"s","i":15.8,"m":3.8},{"s":"s","i":19.4,"m":3.2},{"s":"s","i":23,"m":2.8},{"s":"s","i":26.6,"m":1.8},{"s":"s","i":30.3,"m":0.5},{"s":"s","i":33.9,"m":0.0},{"s":"s","i":38.4,"m":0.0},{"s":"s","i":42,"m":1.8},{"s":"s","i":45.6,"m":3.2},{"s":"s","i":49.2,"m":4.3},{"s":"s","i":51.9,"m":5.3},{"s":"s","i":55.6,"m":5.0},{"s":"s","i":59.2,"m":3.9},{"s":"s","i":62.8,"m":4.0},{"s":"s","i":66.4,"m":2.8},{"s":"s","i":70,"m":1.0},{"s":"s","i":73.6,"m":0.2},{"s":"s","i":77.2,"m":0.3},{"s":"s","i":80.8,"m":0.5},{"s":"s","i":84.5,"m":0.7},{"s":"s","i":88.1,"m":1.4},{"s":"s","i":91.7,"m":2.6},{"s":"s","i":95.3,"m":3.5},{"s":"s","i":98.9,"m":3.3},{"s":"s","i":103.4,"m":2.6},{"s":"s","i":107,"m":0.7},{"s":"s","i":110.7,"m":-1.7},{"s":"s","i":114.3,"m":-3.6},{"s":"s","i":117.9,"m":-4.8},{"s":"s","i":121.5,"m":-6.1},{"s":"s","i":125.1,"m":-6.5},{"s":"s","i":128.7,"m":-5.8},{"s":"s","i":132.3,"m":-5.3},{"s":"s","i":136,"m":-4.6},{"s":"s","i":139.6,"m":-3.8},{"s":"s","i":143.2,"m":-3.1},{"s":"s","i":146.8,"m":-2.9},{"s":"s","i":150.4,"m":-2.7},{"s":"s","i":154,"m":-2.2},{"s":"s","i":157.6,"m":-1.0},{"s":"s","i":161.2,"m":0.0},{"s":"s","i":164.8,"m":0.0},{"s":"s","i":168.5,"m":-1.1},{"s":"s","i":172.1,"m":-1.8},{"s":"s","i":175.7,"m":-2.7},{"s":"s","i":180.2,"m":-3.4},{"s":"s","i":182.9,"m":-2.5},{"s":"s","i":186.5,"m":-1.1},{"s":"s","i":190.2,"m":0.0},{"s":"s","i":193.8,"m":0.5},{"s":"s","i":197.4,"m":1.8},{"s":"s","i":201,"m":3.1},{"s":"s","i":204.6,"m":4.3},{"s":"s","i":208.2,"m":5.5},{"s":"s","i":210.9,"m":5.7},{"s":"s","i":213.6,"m":5.0},{"s":"s","i":217.3,"m":4.3},{"s":"s","i":220.9,"m":3.5},{"s":"s","i":224.5,"m":2.3},{"s":"s","i":228.1,"m":1.9},{"s":"s","i":230.4,"m":1.8},{"s":"s","i":232.6,"m":2.8},{"s":"s","i":235.3,"m":3.8},{"s":"s","i":239,"m":4.2}
    ],
    "pat": [{"i":-8.1,"p":67.8},{"i":94,"p":120.1},{"i":179,"p":55.6},{"i":231.2,"p":118.3},{"i":240.4,"p":55.6}],
    "legs": [{"i":94,"p":120.1},{"i":179,"p":55.6},{"i":231.2,"p":118.3}],
    "dots": [{"g":"a","i":231.2,"p":118.3},{"g":"a","i":240.4,"p":55.6},{"g":"b","i":-8.1,"p":55.6},{"g":"b","i":240.4,"p":55.6}],
    "tags": [{"t":"Top 1","i":94,"p":120.1},{"t":"Top 2","i":231.2,"p":118.3}],
    "earn": [{"i":40,"k":"b"},{"i":117,"k":"b"},{"i":166,"k":"m"},{"i":231,"k":"b"}],
    "hdr": [
      {"i":-6.8,"t":"W - Wayfair Inc. · 1D · NYSE","k":"n"},
      {"i":17.2,"t":"O","k":"n"},{"i":18.4,"t":"104.6","k":"v"},
      {"i":23.6,"t":"H","k":"n"},{"i":24.8,"t":"105.4","k":"v"},
      {"i":30.5,"t":"L","k":"n"},{"i":31.4,"t":"102.3","k":"v"},
      {"i":37.2,"t":"C","k":"n"},{"i":38.2,"t":"102.4","k":"v"},
      {"i":43.8,"t":"+1.3 (+1.28%)","k":"v"}
    ]
  },
  "layer": [
    {
      "layer": [
        {
          "data": {"values": [{"hi": 70, "lo": 30}]},
          "mark": {"type": "rect", "color": "#7e57c2", "opacity": 0.09},
          "encoding": {
            "x": {"datum": -8.1, "type": "quantitative", "scale": {"domain": [-8.1, 253.4], "nice": false, "zero": false}},
            "x2": {"datum": 253.4},
            "y": {"field": "hi", "type": "quantitative", "scale": {"domain": [22.4, 89.25], "range": [62.5, 0], "nice": false, "zero": false}},
            "y2": {"field": "lo"}
          }
        },
        {
          "data": {"values": [{"lv": 70, "k": "a"}, {"lv": 30, "k": "a"}, {"lv": 50, "k": "b"}]},
          "mark": {"type": "rule"},
          "encoding": {
            "x": {"datum": -8.1, "type": "quantitative", "scale": {"domain": [-8.1, 253.4], "nice": false, "zero": false}},
            "x2": {"datum": 253.4},
            "y": {"field": "lv", "type": "quantitative", "scale": {"domain": [22.4, 89.25], "range": [62.5, 0], "nice": false, "zero": false}},
            "color": {"condition": {"test": "datum.k == 'b'", "value": "#a3a6af"}, "value": "#3a3d46"},
            "strokeDash": {"condition": {"test": "datum.k == 'b'", "value": [2, 3]}, "value": [7, 4]},
            "strokeWidth": {"condition": {"test": "datum.k == 'b'", "value": 1}, "value": 1.4}
          }
        },
        {
          "data": {"name": "rsi"},
          "mark": {"type": "line", "color": "#7b7e88", "strokeWidth": 1.2},
          "encoding": {
            "x": {
              "field": "i", "type": "quantitative",
              "scale": {"domain": [-8.1, 253.4], "nice": false, "zero": false},
              "axis": {
                "values": [0, 21, 44, 63, 85, 105, 124, 146, 167, 187, 208, 230, 251],
                "labelExpr": "['Sep','Oct','Nov','Dec','2026','Feb','Mar','Apr','May','Jun','Jul','Aug','Sep'][indexof([0,21,44,63,85,105,124,146,167,187,208,230,251], datum.value)]",
                "labelFontWeight": {"condition": {"test": "datum.value == 85", "value": "bold"}, "value": "normal"},
                "title": null,
                "orient": "bottom",
                "grid": true,
                "gridColor": "#eef0f4",
                "domainColor": "#e0e3eb",
                "tickColor": "#e0e3eb",
                "tickSize": 4,
                "labelPadding": 3.5,
                "labelFontSize": 8.5,
                "labelColor": "#131722",
                "labelOverlap": false,
                "labelFlush": false
              }
            },
            "y": {
              "field": "r", "type": "quantitative",
              "scale": {"domain": [22.4, 89.25], "range": [62.5, 0], "nice": false, "zero": false},
              "axis": {"orient": "right", "values": [75, 50], "format": ".2f", "ticks": false, "domain": false, "grid": false, "labelPadding": 5, "labelFontSize": 9, "labelColor": "#131722", "title": null}
            }
          }
        },
        {
          "data": {"values": [{"lv": 89.25}, {"lv": 22.4}]},
          "mark": {"type": "rule", "color": "#e0e3eb", "strokeWidth": 1},
          "encoding": {
            "x": {"datum": -8.1, "type": "quantitative", "scale": {"domain": [-8.1, 253.4], "nice": false, "zero": false}},
            "x2": {"datum": 266.7},
            "y": {"field": "lv", "type": "quantitative", "scale": {"domain": [22.4, 89.25], "range": [62.5, 0], "nice": false, "zero": false}}
          }
        },
        {
          "data": {"values": [{"v": 57.08}]},
          "encoding": {
            "x": {"datum": 253.93, "type": "quantitative", "scale": {"domain": [-8.1, 253.4], "nice": false, "zero": false}},
            "y": {"field": "v", "type": "quantitative", "scale": {"domain": [22.4, 89.25], "range": [62.5, 0], "nice": false, "zero": false}}
          },
          "layer": [
            {"mark": {"type": "point", "shape": "M0,-6H31V6H0Z", "size": 4, "filled": true, "opacity": 1, "color": "#787b86"}},
            {"mark": {"type": "text", "align": "left", "baseline": "middle", "dx": 4, "fontSize": 9, "color": "#ffffff"}, "encoding": {"text": {"field": "v", "type": "quantitative", "format": ".2f"}}}
          ]
        },
        {
          "data": {"values": [{"i": -7.6, "t": "sarge986 created with TradingView.com, Aug 14, 2026 14:20 UTC"}]},
          "mark": {"type": "text", "align": "left", "baseline": "middle", "fontSize": 6.8, "color": "#50535e"},
          "encoding": {
            "x": {"field": "i", "type": "quantitative", "scale": {"domain": [-8.1, 253.4], "nice": false, "zero": false}},
            "y": {"datum": 97.8, "type": "quantitative", "scale": {"domain": [22.4, 89.25], "range": [62.5, 0], "nice": false, "zero": false}},
            "text": {"field": "t"}
          }
        }
      ]
    },
    {
      "layer": [
        {
          "data": {"name": "bars"},
          "mark": {"type": "bar", "orient": "vertical", "width": 2.8, "color": "#6b6e79", "opacity": 0.72},
          "encoding": {
            "x": {"field": "i", "type": "quantitative", "scale": {"domain": [-8.1, 253.4], "nice": false, "zero": false}},
            "y": {"field": "v", "type": "quantitative", "axis": null, "scale": {"domain": [0, 30370], "range": [366.7, 63], "nice": false, "zero": false}},
            "y2": {"datum": 0}
          }
        },
        {
          "data": {"values": [{"v": 295.3, "t": "295.3K"}]},
          "encoding": {
            "x": {"datum": 253.93, "type": "quantitative", "scale": {"domain": [-8.1, 253.4], "nice": false, "zero": false}},
            "y": {"field": "v", "type": "quantitative", "axis": null, "scale": {"domain": [0, 30370], "range": [366.7, 63], "nice": false, "zero": false}}
          },
          "layer": [
            {"mark": {"type": "point", "shape": "M0,-5.5H38V5.5H0Z", "size": 4, "filled": true, "opacity": 1, "color": "#131722", "yOffset": -3.5}},
            {"mark": {"type": "text", "align": "left", "baseline": "middle", "dx": 4, "yOffset": -3.5, "fontSize": 9, "color": "#ffffff"}, "encoding": {"text": {"field": "t"}}}
          ]
        }
      ]
    },
    {
      "layer": [
        {
          "data": {"values": [{"v": 90}, {"v": 100}]},
          "mark": {"type": "rule", "color": "#eef0f4", "strokeWidth": 1},
          "encoding": {
            "x": {"datum": -8.1, "type": "quantitative", "scale": {"domain": [-8.1, 253.4], "nice": false, "zero": false}},
            "x2": {"datum": 253.4},
            "y": {"field": "v", "type": "quantitative", "scale": {"domain": [49.08, 126.36], "range": [366.7, 63], "nice": false, "zero": false}}
          }
        },
        {
          "data": {"name": "pat"},
          "mark": {"type": "area", "color": "#f48fb1", "opacity": 0.3},
          "encoding": {
            "x": {"field": "i", "type": "quantitative", "scale": {"domain": [-8.1, 253.4], "nice": false, "zero": false}},
            "y": {
              "field": "p", "type": "quantitative",
              "scale": {"domain": [49.08, 126.36], "range": [366.7, 63], "nice": false, "zero": false},
              "axis": {"orient": "right", "values": [60, 70, 80, 110, 120], "format": ".1f", "ticks": false, "domain": false, "grid": true, "gridColor": "#eef0f4", "labelPadding": 5, "labelFontSize": 9, "labelColor": "#131722", "title": null}
            },
            "y2": {"datum": 55.6}
          }
        },
        {
          "data": {"values": [{"v": 120.1, "k": "g"}, {"v": 55.6, "k": "g"}, {"v": 102.4, "k": "t"}]},
          "mark": {"type": "rule", "strokeDash": [1, 2], "strokeWidth": 1},
          "encoding": {
            "x": {"datum": -8.1, "type": "quantitative", "scale": {"domain": [-8.1, 253.4], "nice": false, "zero": false}},
            "x2": {"datum": 253.4},
            "y": {"field": "v", "type": "quantitative", "scale": {"domain": [49.08, 126.36], "range": [366.7, 63], "nice": false, "zero": false}},
            "color": {"condition": {"test": "datum.k == 't'", "value": "#089981"}, "value": "#b2b5be"}
          }
        },
        {
          "data": {"name": "ma"},
          "mark": {"type": "line", "strokeWidth": 1.4},
          "encoding": {
            "x": {"field": "i", "type": "quantitative", "scale": {"domain": [-8.1, 253.4], "nice": false, "zero": false}},
            "y": {"field": "p", "type": "quantitative", "scale": {"domain": [49.08, 126.36], "range": [366.7, 63], "nice": false, "zero": false}},
            "detail": {"field": "s"},
            "color": {"condition": [{"test": "datum.s == 'e'", "value": "#089981"}, {"test": "datum.s == 'b'", "value": "#2962ff"}], "value": "#b22833"}
          }
        },
        {
          "data": {"name": "legs"},
          "mark": {"type": "line", "color": "#e91e63", "strokeWidth": 2.3},
          "encoding": {
            "x": {"field": "i", "type": "quantitative", "scale": {"domain": [-8.1, 253.4], "nice": false, "zero": false}},
            "y": {"field": "p", "type": "quantitative", "scale": {"domain": [49.08, 126.36], "range": [366.7, 63], "nice": false, "zero": false}}
          }
        },
        {
          "data": {"name": "dots"},
          "mark": {"type": "line", "color": "#e91e63", "strokeWidth": 2.4, "strokeDash": [0.1, 5.6], "strokeCap": "round"},
          "encoding": {
            "x": {"field": "i", "type": "quantitative", "scale": {"domain": [-8.1, 253.4], "nice": false, "zero": false}},
            "y": {"field": "p", "type": "quantitative", "scale": {"domain": [49.08, 126.36], "range": [366.7, 63], "nice": false, "zero": false}},
            "detail": {"field": "g"}
          }
        },
        {
          "data": {"name": "bars"},
          "transform": [
            {"window": [{"op": "lag", "field": "c", "as": "pc"}], "sort": [{"field": "i"}]},
            {"calculate": "datum.pc == null || datum.c >= datum.pc", "as": "up"}
          ],
          "layer": [
            {
              "mark": {"type": "rule", "strokeWidth": 1},
              "encoding": {
                "x": {"field": "i", "type": "quantitative", "scale": {"domain": [-8.1, 253.4], "nice": false, "zero": false}},
                "y": {"field": "l", "type": "quantitative", "scale": {"domain": [49.08, 126.36], "range": [366.7, 63], "nice": false, "zero": false}},
                "y2": {"field": "h"},
                "color": {"condition": {"test": "datum.up", "value": "#089981"}, "value": "#f23645"}
              }
            },
            {
              "mark": {"type": "bar", "orient": "vertical", "width": 2.2, "strokeWidth": 0.9},
              "encoding": {
                "x": {"field": "i", "type": "quantitative", "scale": {"domain": [-8.1, 253.4], "nice": false, "zero": false}},
                "y": {"field": "o", "type": "quantitative", "scale": {"domain": [49.08, 126.36], "range": [366.7, 63], "nice": false, "zero": false}},
                "y2": {"field": "c"},
                "stroke": {"condition": {"test": "datum.up", "value": "#089981"}, "value": "#f23645"},
                "fill": {"condition": [{"test": "datum.c >= datum.o", "value": "#ffffff"}, {"test": "datum.up", "value": "#089981"}], "value": "#f23645"},
                "fillOpacity": {"condition": {"test": "datum.c >= datum.o", "value": 0.75}, "value": 1}
              }
            }
          ]
        },
        {
          "data": {"name": "tags"},
          "encoding": {
            "x": {"field": "i", "type": "quantitative", "scale": {"domain": [-8.1, 253.4], "nice": false, "zero": false}},
            "y": {"field": "p", "type": "quantitative", "scale": {"domain": [49.08, 126.36], "range": [366.7, 63], "nice": false, "zero": false}}
          },
          "layer": [
            {"mark": {"type": "point", "shape": "M-13,-7H13V7H-13Z", "size": 4, "filled": true, "opacity": 1, "color": "#ef2f6b", "yOffset": -17}},
            {"mark": {"type": "text", "yOffset": -17, "baseline": "middle", "fontSize": 7, "color": "#ffffff"}, "encoding": {"text": {"field": "t"}}}
          ]
        },
        {
          "data": {"name": "earn"},
          "encoding": {
            "x": {"field": "i", "type": "quantitative", "scale": {"domain": [-8.1, 253.4], "nice": false, "zero": false}},
            "y": {"datum": 50.5, "type": "quantitative", "scale": {"domain": [49.08, 126.36], "range": [366.7, 63], "nice": false, "zero": false}}
          },
          "layer": [
            {
              "mark": {"type": "point", "shape": "M-4.5,-4.5H4.5V4.5H-4.5Z", "size": 4, "filled": true, "opacity": 1, "strokeWidth": 1},
              "encoding": {
                "fill": {"condition": {"test": "datum.k == 'm'", "value": "#fde4e8"}, "value": "#e6f5f2"},
                "stroke": {"condition": {"test": "datum.k == 'm'", "value": "#f23645"}, "value": "#089981"}
              }
            },
            {
              "mark": {"type": "text", "baseline": "middle", "fontSize": 6.5, "fontWeight": "bold", "text": "E"},
              "encoding": {"color": {"condition": {"test": "datum.k == 'm'", "value": "#f23645"}, "value": "#089981"}}
            }
          ]
        },
        {
          "data": {"name": "hdr"},
          "mark": {"type": "text", "align": "left", "baseline": "middle"},
          "encoding": {
            "x": {"field": "i", "type": "quantitative", "scale": {"domain": [-8.1, 253.4], "nice": false, "zero": false}},
            "y": {"datum": 124.07, "type": "quantitative", "scale": {"domain": [49.08, 126.36], "range": [366.7, 63], "nice": false, "zero": false}},
            "text": {"field": "t"},
            "size": {"condition": {"test": "datum.k == 'v'", "value": 6.4}, "value": 7},
            "color": {"condition": {"test": "datum.k == 'v'", "value": "#089981"}, "value": "#131722"}
          }
        },
        {
          "data": {"values": [{"v": 102.4, "cd": "05:39:12"}]},
          "encoding": {
            "x": {"datum": 253.93, "type": "quantitative", "scale": {"domain": [-8.1, 253.4], "nice": false, "zero": false}},
            "y": {"field": "v", "type": "quantitative", "scale": {"domain": [49.08, 126.36], "range": [366.7, 63], "nice": false, "zero": false}}
          },
          "layer": [
            {"mark": {"type": "point", "shape": "M-15,-6H-1V6H-15Z", "size": 4, "filled": true, "opacity": 1, "color": "#089981"}},
            {"mark": {"type": "text", "baseline": "middle", "dx": -8, "fontSize": 8.5, "fontWeight": "bold", "color": "#ffffff", "text": "W"}},
            {"mark": {"type": "point", "shape": "M0,-7H44V17H0Z", "size": 4, "filled": true, "opacity": 1, "color": "#089981"}},
            {"mark": {"type": "text", "align": "left", "baseline": "middle", "dx": 4, "fontSize": 9, "color": "#ffffff"}, "encoding": {"text": {"field": "v", "type": "quantitative", "format": ".1f"}}},
            {"mark": {"type": "text", "align": "left", "baseline": "middle", "dx": 3.5, "dy": 11, "fontSize": 8.5, "color": "#ffffff"}, "encoding": {"text": {"field": "cd"}}}
          ]
        },
        {
          "data": {"values": [{"s": "e", "v": 97.5}, {"s": "b", "v": 89.6}, {"s": "r", "v": 88.4}]},
          "encoding": {
            "x": {"datum": 253.93, "type": "quantitative", "scale": {"domain": [-8.1, 253.4], "nice": false, "zero": false}},
            "y": {"field": "v", "type": "quantitative", "scale": {"domain": [49.08, 126.36], "range": [366.7, 63], "nice": false, "zero": false}}
          },
          "layer": [
            {
              "mark": {"type": "point", "shape": "M0,-6H26V6H0Z", "size": 4, "filled": true, "opacity": 1, "yOffset": {"expr": "datum.s == 'r' ? 8.5 : datum.s == 'e' ? 4 : 0"}},
              "encoding": {"color": {"condition": [{"test": "datum.s == 'e'", "value": "#089981"}, {"test": "datum.s == 'b'", "value": "#2962ff"}], "value": "#b22833"}}
            },
            {
              "mark": {"type": "text", "align": "left", "baseline": "middle", "dx": 4, "fontSize": 9, "color": "#ffffff", "yOffset": {"expr": "datum.s == 'r' ? 8.5 : datum.s == 'e' ? 4 : 0"}},
              "encoding": {"text": {"field": "v", "type": "quantitative", "format": ".1f"}}
            }
          ]
        }
      ]
    },
    {
      "layer": [
        {
          "data": {"values": [{"v": 0}]},
          "mark": {"type": "rule", "color": "#9598a1", "strokeDash": [3, 3], "strokeWidth": 1},
          "encoding": {
            "x": {"datum": -8.1, "type": "quantitative", "scale": {"domain": [-8.1, 253.4], "nice": false, "zero": false}},
            "x2": {"datum": 253.4},
            "y": {"field": "v", "type": "quantitative", "axis": null, "scale": {"domain": [-7.85, 8.5], "range": [443, 367], "nice": false, "zero": false}}
          }
        },
        {
          "data": {"name": "bars"},
          "mark": {"type": "bar", "orient": "vertical", "width": 2.8, "color": "#2962ff", "opacity": 0.85},
          "encoding": {
            "x": {"field": "i", "type": "quantitative", "scale": {"domain": [-8.1, 253.4], "nice": false, "zero": false}},
            "y": {"field": "mh", "type": "quantitative", "axis": null, "scale": {"domain": [-7.85, 8.5], "range": [443, 367], "nice": false, "zero": false}},
            "y2": {"datum": 0}
          }
        },
        {
          "data": {"name": "macd"},
          "mark": {"type": "line", "strokeWidth": 1.3},
          "encoding": {
            "x": {"field": "i", "type": "quantitative", "scale": {"domain": [-8.1, 253.4], "nice": false, "zero": false}},
            "y": {"field": "m", "type": "quantitative", "axis": null, "scale": {"domain": [-7.85, 8.5], "range": [443, 367], "nice": false, "zero": false}},
            "detail": {"field": "s"},
            "color": {"condition": {"test": "datum.s == 'm'", "value": "#131722"}, "value": "#ff9800"}
          }
        },
        {
          "data": {"values": [{"lv": 8.5}, {"lv": -13.01}]},
          "mark": {"type": "rule", "color": "#e0e3eb", "strokeWidth": 1},
          "encoding": {
            "x": {"datum": -8.1, "type": "quantitative", "scale": {"domain": [-8.1, 253.4], "nice": false, "zero": false}},
            "x2": {"datum": 266.7},
            "y": {"field": "lv", "type": "quantitative", "axis": null, "scale": {"domain": [-7.85, 8.5], "range": [443, 367], "nice": false, "zero": false}}
          }
        },
        {
          "data": {"values": [{"a": 87.46, "b": -13.01}]},
          "mark": {"type": "rule", "color": "#e0e3eb", "strokeWidth": 1},
          "encoding": {
            "x": {"datum": -8.1, "type": "quantitative", "scale": {"domain": [-8.1, 253.4], "nice": false, "zero": false}},
            "y": {"field": "a", "type": "quantitative", "axis": null, "scale": {"domain": [-7.85, 8.5], "range": [443, 367], "nice": false, "zero": false}},
            "y2": {"field": "b"}
          }
        },
        {
          "data": {"values": [{"s": "m", "v": 4.5}, {"s": "s", "v": 4.2}, {"s": "h", "v": 0.2}]},
          "encoding": {
            "x": {"datum": 253.93, "type": "quantitative", "scale": {"domain": [-8.1, 253.4], "nice": false, "zero": false}},
            "y": {"field": "v", "type": "quantitative", "axis": null, "scale": {"domain": [-7.85, 8.5], "range": [443, 367], "nice": false, "zero": false}}
          },
          "layer": [
            {
              "mark": {"type": "point", "shape": "M0,-5.5H22V5.5H0Z", "size": 4, "filled": true, "opacity": 1, "yOffset": {"expr": "datum.s == 'm' ? -10 : 0"}},
              "encoding": {"color": {"condition": [{"test": "datum.s == 'm'", "value": "#131722"}, {"test": "datum.s == 's'", "value": "#ff9800"}], "value": "#2962ff"}}
            },
            {
              "mark": {"type": "text", "align": "left", "baseline": "middle", "dx": 4, "fontSize": 9, "yOffset": {"expr": "datum.s == 'm' ? -10 : 0"}},
              "encoding": {
                "text": {"field": "v", "type": "quantitative", "format": ".1f"},
                "color": {"condition": {"test": "datum.s == 's'", "value": "#131722"}, "value": "#ffffff"}
              }
            }
          ]
        },
        {
          "data": {"values": [{"i": -5.15}]},
          "mark": {"type": "point", "shape": "M-9.3,-4.5H-2V4.5H-6V-1.5H-9.3Z M-0.8,-3a1.6,1.6 0 1,0 3.2,0a1.6,1.6 0 1,0 -3.2,0Z M3,-4.5H9.5L4.5,4.5H0.5Z", "size": 4, "filled": true, "opacity": 1, "color": "#131722"},
          "encoding": {
            "x": {"field": "i", "type": "quantitative", "scale": {"domain": [-8.1, 253.4], "nice": false, "zero": false}},
            "y": {"datum": -16.46, "type": "quantitative", "axis": null, "scale": {"domain": [-7.85, 8.5], "range": [443, 367], "nice": false, "zero": false}}
          }
        },
        {
          "data": {"values": [{"i": -1.9, "t": "TradingView"}]},
          "mark": {"type": "text", "align": "left", "baseline": "middle", "fontSize": 12, "fontWeight": "bold", "color": "#131722"},
          "encoding": {
            "x": {"field": "i", "type": "quantitative", "scale": {"domain": [-8.1, 253.4], "nice": false, "zero": false}},
            "y": {"datum": -16.46, "type": "quantitative", "axis": null, "scale": {"domain": [-7.85, 8.5], "range": [443, 367], "nice": false, "zero": false}},
            "text": {"field": "t"}
          }
        }
      ]
    }
  ],
  "resolve": {"scale": {"y": "independent"}}
}
